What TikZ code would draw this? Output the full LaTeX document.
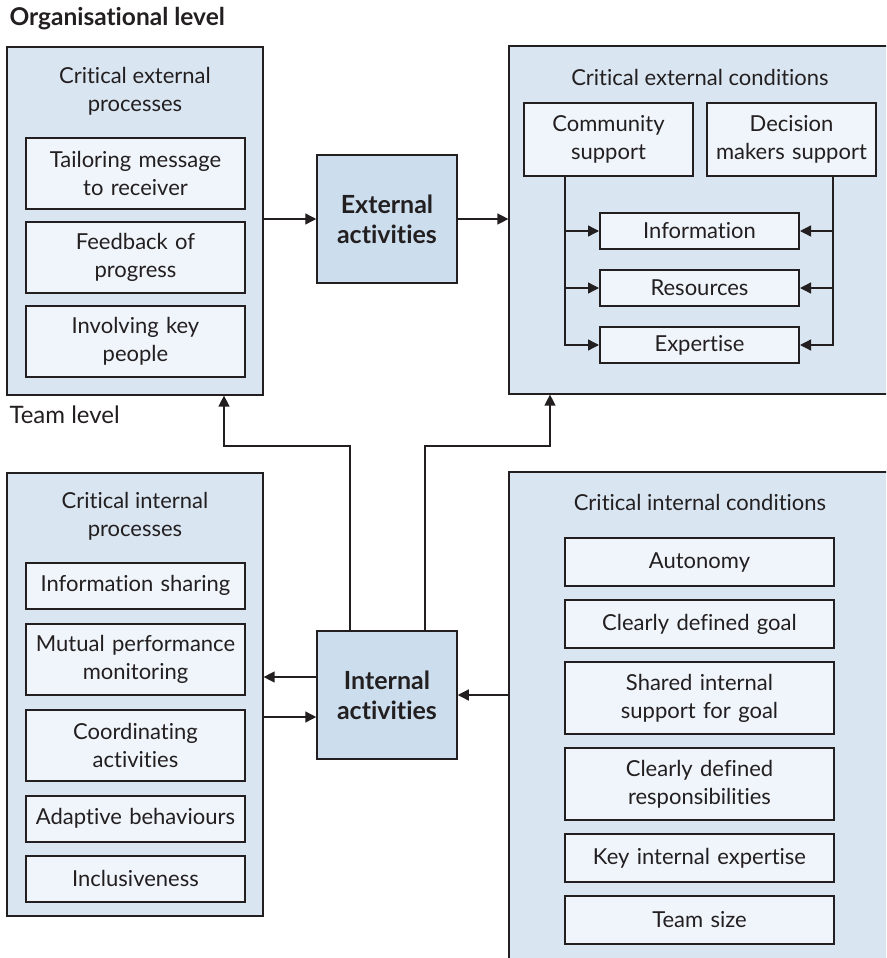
\documentclass[tikz,border=0pt]{standalone}
\usepackage{fontspec}
\setmainfont{Lato}[Ligatures=NoCommon]
\usetikzlibrary{positioning, arrows.meta}

\definecolor{ink}{HTML}{231F20}
\definecolor{outerfill}{HTML}{D9E6F2}
\definecolor{itemfill}{HTML}{EFF5FA}
\definecolor{actfill}{HTML}{CCDEEE}

\begin{document}
\begin{tikzpicture}[
    x=1pt, y=-1pt, text=ink,
    font=\fontsize{22}{28}\selectfont,
    every node/.style={align=center},
    arr/.style={draw=ink, line width=1.3pt, -{Triangle[length=11pt, width=11pt]}},
    outerbox/.style={draw=ink, line width=1.2pt, fill=outerfill, inner sep=0pt},
    itembox/.style={draw=ink, line width=2pt, fill=itemfill, inner sep=0pt, text width=#1, minimum height=46pt},
    tall/.style={minimum height=71pt},
    actbox/.style={draw=ink, line width=1.5pt, fill=actfill, minimum width=140pt, minimum height=128pt,
                   font=\fontsize{25}{30}\selectfont\bfseries}
]
    \useasboundingbox (0,0) rectangle (886,958);
    \clip (0,0) rectangle (886,958);

    % Organisational level
    \node[anchor=west, font=\fontsize{24.5}{28}\selectfont\bfseries] (ORG) at (6,19) {Organisational level};

    \node[outerbox, minimum width=256pt, minimum height=348pt] (CEP) at (135,221) {};
    \node (CEPT) at (135,91) {Critical external\\processes};
    \node[itembox=219pt, tall] (TAILOR) at (135.5,173.5) {Tailoring message\\to receiver};
    \node[itembox=219pt, tall, below=11pt of TAILOR] (FEEDBACK) {Feedback of\\progress};
    \node[itembox=219pt, tall, below=11pt of FEEDBACK] (INVOLVE) {Involving key\\people};

    \node[actbox] (EXT) at (387,219) {External\\activities};

    \node[outerbox, minimum width=402pt, minimum height=348pt] (CEC) at (710,220) {};
    \node (CECT) at (700,77) {Critical external conditions};
    \node[itembox=169pt, minimum height=73pt] (COMM) at (608.5,139.5) {Community\\support};
    \node[itembox=169pt, minimum height=73pt] (DECIDE) at (791.5,139.5) {Decision\\makers support};
    \node[itembox=199pt, minimum height=36pt] (INFO) at (699.5,231) {Information};
    \node[itembox=199pt, minimum height=36pt, below=19pt of INFO] (RES) {Resources};
    \node[itembox=199pt, minimum height=36pt, below=19pt of RES] (EXPERT) {Expertise};

    % Team level
    \node[anchor=west, font=\fontsize{24}{28}\selectfont] (TEAM) at (6,415) {Team level};

    \node[outerbox, minimum width=256pt, minimum height=443pt] (CIP) at (135,694.5) {};
    \node (CIPT) at (135,516) {Critical internal\\processes};
    \node[itembox=219pt] (SHARING) at (135.5,585.5) {Information sharing};
    \node[itembox=219pt, tall, below=13pt of SHARING] (MONITOR) {Mutual performance\\monitoring};
    \node[itembox=219pt, tall, below=13pt of MONITOR] (COORD) {Coordinating\\activities};
    \node[itembox=219pt, below=13pt of COORD] (ADAPT) {Adaptive behaviours};
    \node[itembox=219pt, below=12pt of ADAPT] (INCL) {Inclusiveness};

    \node[actbox] (INT) at (387,695) {Internal\\activities};

    \node[outerbox, minimum width=402pt, minimum height=500pt] (CIC) at (710,722) {};
    \node (CICT) at (700,502) {Critical internal conditions};
    \node[itembox=269pt, minimum height=48pt] (AUTO) at (699.5,562) {Autonomy};
    \node[itembox=269pt, minimum height=48pt, below=12pt of AUTO] (GOAL) {Clearly defined goal};
    \node[itembox=269pt, minimum height=72pt, below=12pt of GOAL] (SHARED) {Shared internal\\support for goal};
    \node[itembox=269pt, minimum height=72pt, below=12pt of SHARED] (RESP) {Clearly defined\\responsibilities};
    \node[itembox=269pt, minimum height=48pt, below=12pt of RESP] (KEY) {Key internal expertise};
    \node[itembox=269pt, minimum height=48pt, below=12pt of KEY] (SIZE) {Team size};

    % Edges
    % Processes -> External activities -> Conditions
    \draw[arr] (CEP.east |- EXT) -- (EXT);
    \draw[arr] (EXT) -- (EXT -| CEC.west);

    % Community / decision makers -> resources
    \coordinate (BUSL) at ([xshift=-43.5pt]COMM.south);
    \coordinate (BUSR) at ([xshift=41.5pt]DECIDE.south);
    \draw[arr] (BUSL) |- (EXPERT);
    \draw[arr] (BUSL |- INFO) -- (INFO);
    \draw[arr] (BUSL |- RES) -- (RES);
    \draw[arr] (BUSR) |- (EXPERT);
    \draw[arr] (BUSR |- INFO) -- (INFO);
    \draw[arr] (BUSR |- RES) -- (RES);

    % Internal activities -> organisational level
    \coordinate (UPL) at (224,446);
    \coordinate (UPR) at (550,446);
    \draw[arr] ([xshift=-37pt]INT.north) |- (UPL) -- (UPL |- CEP.south);
    \draw[arr] ([xshift=38pt]INT.north) |- (UPR) -- (UPR |- CEC.south);

    % Team level edges
    \coordinate (INTL) at ([yshift=18pt]INT.west);
    \coordinate (INTR) at ([yshift=-22pt]INT.west);
    \draw[arr] (INTL) -- (INTL -| CIP.east);
    \draw[arr] (INTR -| CIP.east) -- (INTR);
    \draw[arr] (INT -| CIC.west) -- (INT);

\end{tikzpicture}
\end{document}
